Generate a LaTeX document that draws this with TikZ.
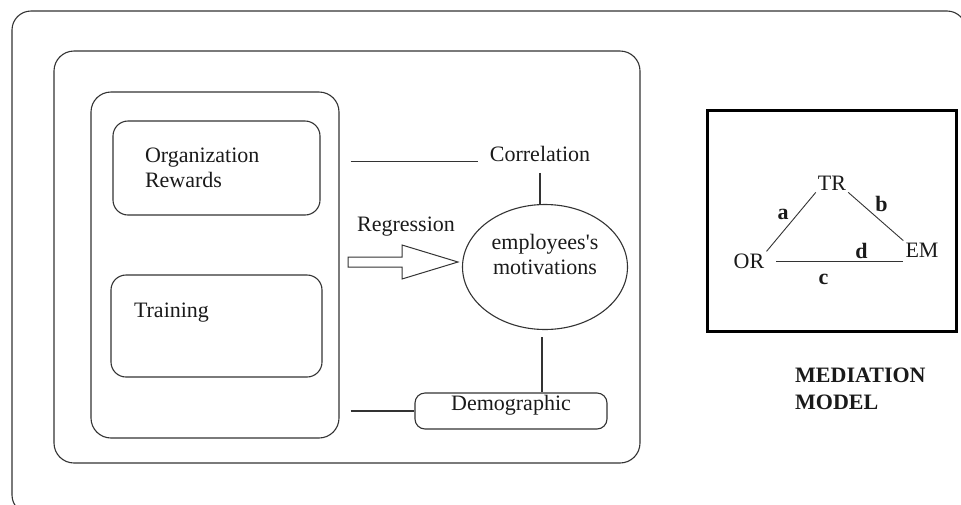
\documentclass[tikz,border=0pt]{standalone}
\usepackage{fontspec}
\setmainfont{Liberation Serif}
\usetikzlibrary{positioning, calc, shapes.geometric}
\definecolor{Ink}{HTML}{1A1A1A}
\definecolor{Frame}{HTML}{333333}
\newcommand{\bodysize}{\fontsize{22}{25}\selectfont}
\tikzset{
    link/.style={draw=Frame, line width=1.1pt},
    plaintext/.style={text=Ink, font=\bodysize, inner sep=2pt},
    roundbox/.style={rectangle, rounded corners=15pt, draw=Frame, line width=1.1pt, plaintext},
    edgelabel/.style={text=Ink, font=\bfseries\bodysize, inner sep=2pt},
    titletext/.style={text=Ink, font=\bfseries\fontsize{22}{27}\selectfont, inner sep=2pt, align=left},
}

\begin{document}
\begin{tikzpicture}[x=1pt, y=-1pt]
    \useasboundingbox (0,0) rectangle (961,504);
    \draw[link, rounded corners=19pt] (12,11) rectangle (966,514);
    \draw[link, rounded corners=20pt] (54,51) rectangle (640,463);
    \node[roundbox, rounded corners=20pt, minimum width=248pt, minimum height=346pt] (col) at (215,265) {};
    \node[roundbox, minimum width=207pt, minimum height=94pt, inner xsep=32pt, text width=143pt, align=left] (rewards) at (216.5,168) {Organization\\Rewards};
    \node[roundbox, minimum width=211pt, minimum height=102pt, inner xsep=23pt, text width=165pt, align=left] (training) at (216.5,326) {Training\\[6pt]\mbox{}};
    \node[ellipse, plaintext, draw=Frame, line width=1.1pt, minimum width=165pt, minimum height=125pt, align=center] (motiv) at (545,267) {employees\textquotesingle s\\motivations\\\mbox{}};
    \node[roundbox, rounded corners=10pt, minimum width=192pt, minimum height=36pt, inner sep=0pt, text depth=16pt] (demo) at (511,411) {Demographic};
    \node[plaintext] (corr) at (540,154) {Correlation};
    \node[plaintext] (regr) at (406,227) {Regression};
    \draw[link] ($(col.east |- corr.base)+(11,0)$) -- ($(corr.base west)+(-10,0)$);
    \draw[link] ($(corr.south)+(0,9)$) -- (corr.south |- motiv.north);
    \draw[link] ($(motiv.south)+(-3,7)$) -- ($(motiv.south |- demo.north)+(-3,0)$);
    \draw[link] ($(col.east |- demo.west)+(11,0)$) -- (demo.west);
    \draw[link, line width=1pt] (348,257) -- (402,257) -- (402,245) -- (458,262) -- (402,279) -- (402,267) -- (348,267) -- cycle;

    \node[draw=black, line width=3.5pt, minimum width=249pt, minimum height=221pt] (medbox) at (832,221) {};
    \node[plaintext] (med-tr) at (832,183) {TR};
    \node[plaintext] (med-or) at (749,261) {OR};
    \node[plaintext] (med-em) at (922,250) {EM};
    \draw[link, line width=0.9pt] (med-or.north east) -- node[edgelabel, pos=.5, above left] {a} (med-tr.south west);
    \draw[link, line width=0.9pt] (med-tr.south east) -- node[edgelabel, pos=.45, above right] {b} (med-em.north west);
    \draw[link, line width=0.9pt] ($(med-or.east)+(10,0)$) -- node[edgelabel, pos=.67, above] {d} node[edgelabel, pos=.37, below=11pt] {c} (med-or.east -| med-em.west);
    \node[titletext, anchor=north west] (medtitle) at (793,366) {MEDIATION\\MODEL};
\end{tikzpicture}
\end{document}
